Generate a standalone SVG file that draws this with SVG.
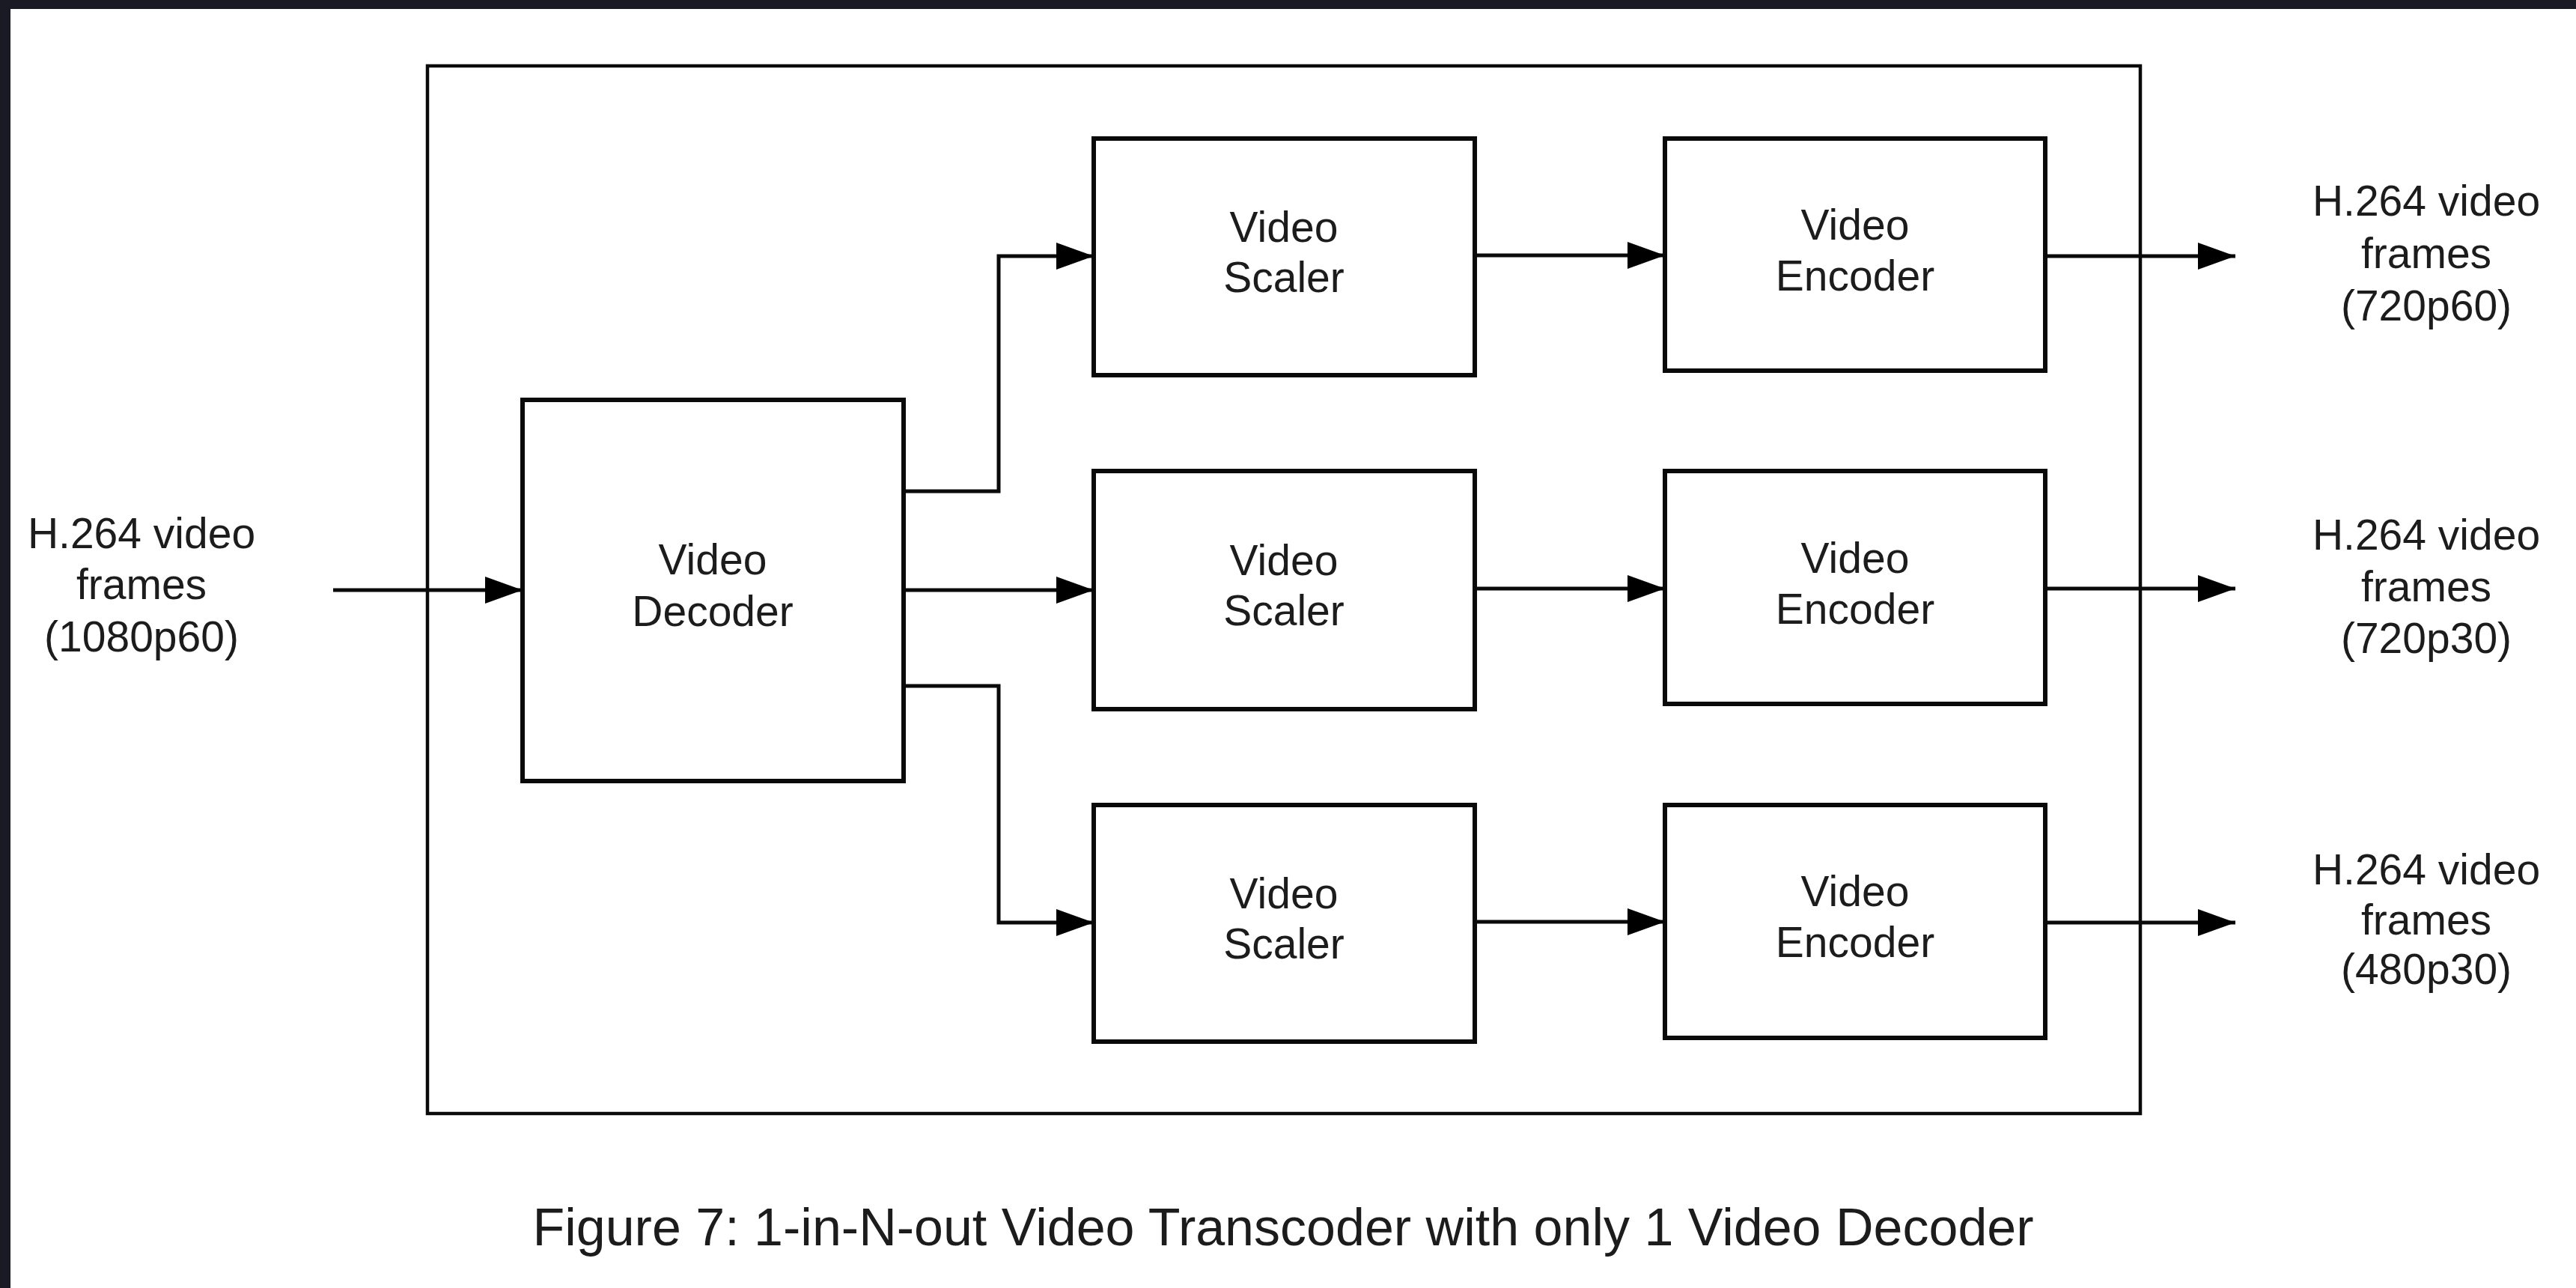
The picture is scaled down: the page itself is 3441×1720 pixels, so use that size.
<svg xmlns="http://www.w3.org/2000/svg" width="3441" height="1720" viewBox="0 0 3441 1720">
<style>
.box{fill:#fff;stroke:#0a0a0a;stroke-width:6}
.outer{fill:none;stroke:#0a0a0a;stroke-width:4.5}
.conn{fill:none;stroke:#0a0a0a;stroke-width:5}
text{font-family:"Liberation Sans",Arial,sans-serif;font-size:57px;fill:#1c1c1c;text-anchor:middle}
.cap{font-size:70px}
</style>
<defs>
<marker id="arr" markerUnits="userSpaceOnUse" markerWidth="52" markerHeight="38" refX="50" refY="18" orient="auto">
<path d="M0,0 L50,18 L0,36 Z" fill="#000"/>
</marker>
</defs>
<rect x="0" y="0" width="3441" height="1720" fill="#191a23"/>
<rect x="14" y="12" width="3427" height="1708" fill="#ffffff"/>
<g id="transcoder"><rect class="outer" x="571" y="88" width="2288" height="1399"/></g>
<g id="decoder"><rect class="box" x="698" y="534" width="509" height="509"/><text x="952" y="767">Video</text><text x="952" y="836">Decoder</text></g>
<g id="scaler1"><rect class="box" x="1461" y="185" width="509" height="316"/><text x="1715" y="323">Video</text><text x="1715" y="390">Scaler</text></g>
<g id="encoder1"><rect class="box" x="2224" y="185" width="508" height="310"/><text x="2478" y="320">Video</text><text x="2478" y="388">Encoder</text></g>
<g id="scaler2"><rect class="box" x="1461" y="629" width="509" height="318"/><text x="1715" y="768">Video</text><text x="1715" y="835">Scaler</text></g>
<g id="encoder2"><rect class="box" x="2224" y="629" width="508" height="311"/><text x="2478" y="765">Video</text><text x="2478" y="833">Encoder</text></g>
<g id="scaler3"><rect class="box" x="1461" y="1075" width="509" height="316"/><text x="1715" y="1213">Video</text><text x="1715" y="1280">Scaler</text></g>
<g id="encoder3"><rect class="box" x="2224" y="1075" width="508" height="311"/><text x="2478" y="1210">Video</text><text x="2478" y="1278">Encoder</text></g>
<g id="input-label"><text x="189" y="732">H.264 video</text><text x="189" y="800">frames</text><text x="189" y="870">(1080p60)</text></g>
<g id="out1-label"><text x="3241" y="288">H.264 video</text><text x="3241" y="358">frames</text><text x="3241" y="428">(720p60)</text></g>
<g id="out2-label"><text x="3241" y="734">H.264 video</text><text x="3241" y="803">frames</text><text x="3241" y="872">(720p30)</text></g>
<g id="out3-label"><text x="3241" y="1181">H.264 video</text><text x="3241" y="1248">frames</text><text x="3241" y="1314">(480p30)</text></g>
<g id="connectors">
<path class="conn" marker-end="url(#arr)" d="M445,788 H698"/>
<path class="conn" marker-end="url(#arr)" d="M1207,656 H1334 V342 H1461"/>
<path class="conn" marker-end="url(#arr)" d="M1207,788 H1461"/>
<path class="conn" marker-end="url(#arr)" d="M1207,916 H1334 V1232 H1461"/>
<path class="conn" marker-end="url(#arr)" d="M1970,341 H2224"/>
<path class="conn" marker-end="url(#arr)" d="M1970,786 H2224"/>
<path class="conn" marker-end="url(#arr)" d="M1970,1231 H2224"/>
<path class="conn" marker-end="url(#arr)" d="M2732,342 H2986"/>
<path class="conn" marker-end="url(#arr)" d="M2732,786 H2986"/>
<path class="conn" marker-end="url(#arr)" d="M2732,1232 H2986"/>
</g>
<text class="cap" x="1714" y="1663">Figure 7: 1-in-N-out Video Transcoder with only 1 Video Decoder</text>
</svg>
